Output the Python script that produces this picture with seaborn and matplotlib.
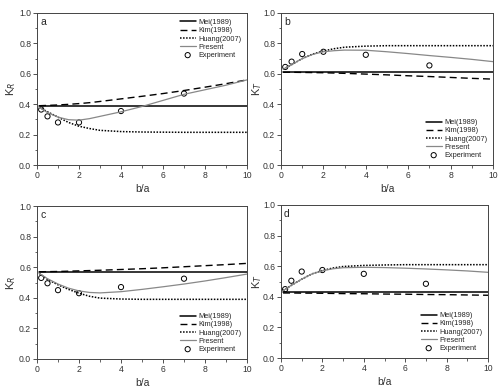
import numpy as np
import pandas as pd
import matplotlib
matplotlib.use("Agg")
import matplotlib.pyplot as plt
from matplotlib.ticker import MultipleLocator, FormatStrFormatter
import seaborn as sns

sns.set_style("white")
plt.rcParams['font.family'] = ['Liberation Sans', 'DejaVu Sans']

# x positions for the theory curves
x_curve = [0.1, 0.5, 1.0, 1.5, 2.0, 2.5, 3.0, 4.0, 5.0, 6.0, 7.0, 8.0, 9.0, 10.0]
x_exp = [0.2, 0.5, 1.0, 2.0, 4.0, 7.0]

# Panel a (K_R)
a_mei = [0.385] * 14
a_kim = [0.39, 0.392, 0.395, 0.399, 0.404, 0.41, 0.418, 0.435, 0.452, 0.47, 0.49, 0.512, 0.535, 0.56]
a_huang = [0.38, 0.35, 0.315, 0.28, 0.255, 0.24, 0.228, 0.22, 0.217, 0.216, 0.215, 0.215, 0.215, 0.215]
a_present = [0.38, 0.345, 0.315, 0.298, 0.295, 0.305, 0.32, 0.35, 0.385, 0.425, 0.465, 0.495, 0.525, 0.56]
a_exp = [0.365, 0.32, 0.28, 0.28, 0.355, 0.47]

# Panel b (K_T)
b_mei = [0.615] * 14
b_kim = [0.61, 0.61, 0.609, 0.608, 0.607, 0.605, 0.603, 0.598, 0.593, 0.587, 0.582, 0.576, 0.57, 0.565]
b_huang = [0.63, 0.66, 0.70, 0.73, 0.75, 0.765, 0.775, 0.782, 0.785, 0.785, 0.785, 0.785, 0.785, 0.785]
b_present = [0.63, 0.66, 0.70, 0.728, 0.745, 0.752, 0.756, 0.755, 0.745, 0.733, 0.72, 0.708, 0.695, 0.68]
b_exp = [0.645, 0.68, 0.73, 0.745, 0.725, 0.655]

# Panel c (K_R)
c_mei = [0.57] * 14
c_kim = [0.57, 0.571, 0.572, 0.574, 0.576, 0.578, 0.58, 0.585, 0.59, 0.596, 0.603, 0.61, 0.617, 0.625]
c_huang = [0.56, 0.52, 0.485, 0.455, 0.43, 0.41, 0.398, 0.392, 0.39, 0.39, 0.39, 0.39, 0.39, 0.39]
c_present = [0.56, 0.525, 0.49, 0.463, 0.445, 0.435, 0.432, 0.44, 0.455, 0.472, 0.49, 0.51, 0.532, 0.555]
c_exp = [0.53, 0.495, 0.45, 0.43, 0.47, 0.525]

# Panel d (K_T)
d_mei = [0.43] * 14
d_kim = [0.425, 0.425, 0.424, 0.424, 0.423, 0.422, 0.421, 0.42, 0.418, 0.417, 0.415, 0.414, 0.412, 0.41]
d_huang = [0.44, 0.475, 0.515, 0.55, 0.572, 0.588, 0.598, 0.605, 0.608, 0.61, 0.61, 0.61, 0.61, 0.61]
d_present = [0.44, 0.475, 0.515, 0.55, 0.57, 0.583, 0.59, 0.593, 0.591, 0.587, 0.582, 0.576, 0.569, 0.56]
d_exp = [0.45, 0.505, 0.565, 0.575, 0.55, 0.485]

labels = ["Mei(1989)", "Kim(1998)", "Huang(2007)", "Present", "Experiment"]
panel_letters = ["a", "b", "c", "d"]
ylabels = ["K$_R$", "K$_T$", "K$_R$", "K$_T$"]
legend_locs = ["upper right", "lower right", "lower right", "lower right"]

panels = [
    (a_mei, a_kim, a_huang, a_present, a_exp),
    (b_mei, b_kim, b_huang, b_present, b_exp),
    (c_mei, c_kim, c_huang, c_present, c_exp),
    (d_mei, d_kim, d_huang, d_present, d_exp),
]

W, H = 499, 391
fig = plt.figure(figsize=(W / 100, H / 100), dpi=100)
boxes = [(37, 13, 247, 165), (281, 13, 493, 165), (37, 206, 247, 359), (281, 205, 488, 358)]
ylab_px = [18, 264, 18, 264]

for i, (box, data) in enumerate(zip(boxes, panels)):
    l, t, r, b = box
    ax = fig.add_axes([l / W, 1 - b / H, (r - l) / W, (b - t) / H])
    mei, kim, huang, present, exp = data
    sns.lineplot(x=x_curve, y=mei, ax=ax, color="black", lw=1.1, label=labels[0])
    sns.lineplot(x=x_curve, y=kim, ax=ax, color="black", lw=1.0, linestyle=(0, (5, 3)), label=labels[1])
    sns.lineplot(x=x_curve, y=huang, ax=ax, color="black", lw=1.1, linestyle=(0, (1, 1)), label=labels[2])
    sns.lineplot(x=x_curve, y=present, ax=ax, color="#888888", lw=0.9, label=labels[3])
    sns.scatterplot(x=x_exp, y=exp, ax=ax, marker="o", s=14, facecolor="none",
                    edgecolor="black", linewidth=0.7, label=labels[4])
    ax.set_xlim(0, 10)
    ax.set_ylim(0, 1.0)
    ax.xaxis.set_major_locator(MultipleLocator(2))
    ax.xaxis.set_minor_locator(MultipleLocator(1))
    ax.yaxis.set_major_locator(MultipleLocator(0.2))
    ax.yaxis.set_minor_locator(MultipleLocator(0.1))
    ax.yaxis.set_major_formatter(FormatStrFormatter("%.1f"))
    ax.tick_params(which="major", direction="out", length=3, width=0.6, labelsize=6.2,
                   colors="#333333", pad=1.2, bottom=True, left=True)
    ax.tick_params(which="minor", direction="out", length=1.8, width=0.5, bottom=True, left=True)
    for s in ax.spines.values():
        s.set_color("#444444")
        s.set_linewidth(0.7)
    ax.set_xlabel("b/a", fontsize=7.5, labelpad=3, color="#333333")
    ax.set_ylabel(ylabels[i], fontsize=8, color="#333333")
    ax.yaxis.set_label_coords((ylab_px[i] - l) / (r - l), 0.5)
    ax.text(0.015, 0.975, panel_letters[i], transform=ax.transAxes, fontsize=7.5,
            ha="left", va="top")
    leg = ax.legend(loc=legend_locs[i], frameon=False, fontsize=5.3, handlelength=2.2,
                    handletextpad=0.3, labelspacing=0.15, borderaxespad=0.4)

fig.savefig("out.png", dpi=100)
